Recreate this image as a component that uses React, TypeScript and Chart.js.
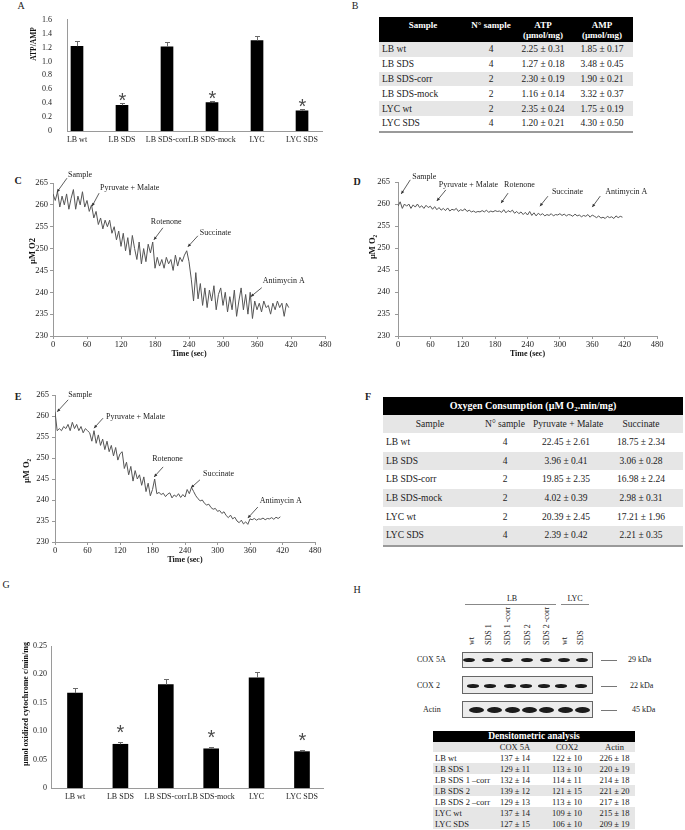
import React, { useEffect, useRef } from "react";
import { Chart, registerables } from "chart.js";

Chart.register(...registerables);

const SERIF = "'Liberation Serif', 'Times New Roman', Times, serif";

/* ---------------- data ---------------- */
const GROUPS = ["LB wt", "LB SDS", "LB SDS-corr", "LB SDS-mock", "LYC", "LYC SDS"];
const ATP_AMP = [1.22, 0.37, 1.21, 0.41, 1.3, 0.29];
const ATP_AMP_SE = [0.07, 0.03, 0.07, 0.025, 0.07, 0.02];
const SIGNIFICANT = [false, true, false, true, false, true];
const CYT_C_OX = [0.167, 0.077, 0.182, 0.069, 0.194, 0.064];
const CYT_C_OX_SE = [0.009, 0.004, 0.01, 0.003, 0.01, 0.003];

const TIME_STEP_SEC = 4;
const TRACE_C = [
  262.5, 261, 263, 259.5, 262, 260, 262.5, 259, 261.5, 263.5, 259, 262,
  260, 263, 259.5, 261, 258.5,
  260, 257, 258.5, 255.5, 257, 254.5, 256.5, 255,
  256.5, 253.5, 255, 252, 254,
  250.5, 253.5, 249.5, 252.5, 248.5, 253, 250, 247.5, 251.5, 246.5, 250, 247, 251, 249, 251.5,
  245.5, 248, 246, 247.5, 245.5, 248, 246.5, 247.5, 245, 248.5, 246, 248, 247, 248.5, 249.5,
  247, 243, 238,
  244.5, 238.5, 242, 237, 241, 236.5, 240.5, 238, 241.5, 236, 239.5, 241, 237,
  240, 235.5, 239, 236, 240.5, 234.5, 238, 241, 236, 239.5, 235, 240,
  234, 238, 236, 237.5, 235.5, 238, 236.5, 237, 235, 237.5, 236, 238, 236.5, 237.5, 234.5, 237.5, 236.5,
];
const TRACE_D = [
  259.5, 260.5, 259, 260, 259.5, 260, 259, 259.8, 259.3, 260, 259.2, 259.6, 259, 259.7, 259.2, 259.5,
  258.8, 259.4, 258.7, 259.2, 258.6, 259, 258.5, 259.1, 258.4, 258.8, 258.6, 259, 258.3, 258.7, 258.5,
  258.9, 258.3, 258.6, 258.2, 258.4, 258.1, 258.3, 258.2, 258.5, 258.2, 258.6, 258.1, 258.4, 258.2, 258.5,
  258.3, 258.4, 258.1, 258.7, 258, 258.5, 258.2, 258.6, 257.9, 258.3, 257.8, 258.2, 257.6, 258.1, 257.5,
  258.3, 257.4, 258, 257.3, 257.9, 257.5, 257.8, 257.3, 257.6, 257.4, 257.8, 257.3, 257.6, 257.5, 257.8,
  257.4, 257.7, 257.3, 257.6, 257.5, 257.2, 257.7, 257.3, 257.5, 257.1, 257.4, 257.2, 257.6, 257, 257.5,
  257.2, 256.9, 257.3, 256.8, 257, 256.7, 257.2, 256.9, 257.1, 256.7, 257.3, 256.9, 257.2, 257,
];
const TRACE_E = [
  261, 256.5,
  257, 256.5, 257.5, 257, 258, 256.5, 258.5, 257, 258, 256.5, 257.5, 256, 257, 256.5,
  256, 254, 256.5, 253.5, 255.5, 253, 254.5, 252, 254, 251.5, 253, 250.5, 252.5, 249.5, 251,
  251.5, 247.5, 249, 246, 248, 244.5, 247, 245, 246, 243.5, 245.5, 242, 244, 241, 242.5,
  245, 241.5, 241.8, 241.3, 241.6, 240.8, 241.4, 241.7, 240.5, 241.2, 240.8, 241.5, 240.6, 241.3, 240.7,
  242.5, 241.5, 243, 242, 241, 240.3, 239.8, 240, 239.2, 238.8, 239, 238.2, 237.8, 238, 237.3,
  237.5, 236.8, 237.2, 236.3, 235.8, 236.4, 235.5, 235.9, 235, 234.6, 235.2, 234.3, 234.8, 234.2, 235.5,
  235.3, 235.6, 235.2, 235.5, 235.4, 235.7, 235.3, 235.6, 235.5, 235.8, 235.4, 235.9, 235.6, 236,
];

const INJECTIONS = ["Sample", "Pyruvate + Malate", "Rotenone", "Succinate", "Antimycin A"];
const INJ_TIME_C = [7, 69, 178, 238, 349];
const INJ_O2_C = [262.9, 259.7, 252.0, 250.4, 239.0];
const INJ_TIME_D = [6, 72, 191, 263, 360];
const INJ_O2_D = [262.3, 260.7, 260.2, 259.5, 259.3];
const INJ_TIME_E = [4, 72, 183, 251, 356];
const INJ_O2_E = [261, 257.1, 245.5, 242.9, 235.7];

const TABLE_SAMPLES = ["LB wt", "LB SDS", "LB SDS-corr", "LB SDS-mock", "LYC wt", "LYC SDS"];
const N_SAMPLES = [4, 4, 2, 2, 2, 4];
const ATP_CONTENT = ["2.25 ± 0.31", "1.27 ± 0.18", "2.30 ± 0.19", "1.16 ± 0.14", "2.35 ± 0.24", "1.20 ± 0.21"];
const AMP_CONTENT = ["1.85 ± 0.17", "3.48 ± 0.45", "1.90 ± 0.21", "3.32 ± 0.37", "1.75 ± 0.19", "4.30 ± 0.50"];
const PM_CONSUMPTION = ["22.45 ± 2.61", "3.96 ± 0.41", "19.85 ± 2.35", "4.02 ± 0.39", "20.39 ± 2.45", "2.39 ± 0.42"];
const SUCC_CONSUMPTION = ["18.75 ± 2.34", "3.06 ± 0.28", "16.98 ± 2.24", "2.98 ± 0.31", "17.21 ± 1.96", "2.21 ± 0.35"];

const BLOT_LANES = ["wt", "SDS 1", "SDS 1 -corr", "SDS 2", "SDS 2 -corr", "wt", "SDS"];
const DENS_SAMPLES = ["LB wt", "LB SDS 1", "LB SDS 1 \u2013corr", "LB SDS 2", "LB SDS 2 \u2013corr", "LYC wt", "LYC SDS"];
const DENS_COX5A = ["137 ± 14", "129 ± 11", "132 ± 14", "139 ± 12", "129 ± 13", "137 ± 14", "127 ± 15"];
const DENS_COX2 = ["122 ± 10", "113 ± 10", "114 ± 11", "121 ± 15", "113 ± 10", "109 ± 10", "106 ± 10"];
const DENS_ACTIN = ["226 ± 18", "220 ± 19", "214 ± 18", "221 ± 20", "217 ± 18", "215 ± 18", "209 ± 19"];

/* ---------------- plugins ---------------- */
function barMarks(errors: number[], flags: boolean[], gap: number) {
  return {
    id: "barMarks",
    afterDatasetsDraw(chart: any) {
      const ctx = chart.ctx;
      const meta = chart.getDatasetMeta(0);
      const ys = chart.scales.y;
      ctx.save();
      meta.data.forEach((bar: any, i: number) => {
        const raw: any = chart.data.datasets[0].data[i];
        const x = Math.round(bar.x) + 0.5;
        const yVal = ys.getPixelForValue(raw.y);
        const yTop = Math.round(ys.getPixelForValue(raw.y + errors[i])) + 0.5;
        ctx.strokeStyle = "#6a6a6a";
        ctx.lineWidth = 1;
        ctx.beginPath();
        ctx.moveTo(x, yVal);
        ctx.lineTo(x, yTop);
        ctx.moveTo(x - 2.5, yTop);
        ctx.lineTo(x + 2.5, yTop);
        ctx.stroke();
        if (flags[i]) {
          ctx.fillStyle = "#4a4a4a";
          ctx.font = "20px 'Liberation Sans', Arial, sans-serif";
          ctx.textAlign = "center";
          ctx.textBaseline = "alphabetic";
          ctx.fillText("*", x, yTop - gap + 11.5);
        }
      });
      ctx.restore();
    },
  };
}

type Off = [number, number, number, number, CanvasTextAlign];
function injectionMarks(times: number[], values: number[], offs: Off[]) {
  return {
    id: "injectionMarks",
    afterDatasetsDraw(chart: any) {
      const { ctx } = chart;
      const xs = chart.scales.x;
      const ys = chart.scales.y;
      ctx.save();
      ctx.font = `8px ${SERIF}`;
      ctx.strokeStyle = "#333";
      ctx.lineWidth = 0.8;
      INJECTIONS.forEach((label, i) => {
        const px = xs.getPixelForValue(times[i]);
        const py = ys.getPixelForValue(values[i]);
        const o = offs[i];
        const tx = px + o[0];
        const ty = py + o[1];
        ctx.beginPath();
        ctx.moveTo(tx, ty);
        ctx.lineTo(px, py);
        ctx.stroke();
        const ang = Math.atan2(py - ty, px - tx);
        const L = 3.5;
        ctx.beginPath();
        ctx.moveTo(px, py);
        ctx.lineTo(px - L * Math.cos(ang - 0.45), py - L * Math.sin(ang - 0.45));
        ctx.lineTo(px - L * Math.cos(ang + 0.45), py - L * Math.sin(ang + 0.45));
        ctx.closePath();
        ctx.fillStyle = "#333";
        ctx.fill();
        ctx.fillStyle = "#222";
        ctx.textAlign = o[4];
        ctx.textBaseline = "middle";
        ctx.fillText(label, px + o[2], py + o[3]);
      });
      ctx.restore();
    },
  };
}

function sideTitle(text: string, x: number, y: number, font: string) {
  return {
    id: "sideTitle",
    afterDraw(chart: any) {
      const ctx = chart.ctx;
      ctx.save();
      ctx.translate(x, y);
      ctx.rotate(-Math.PI / 2);
      ctx.font = font;
      ctx.fillStyle = "#111";
      ctx.textAlign = "center";
      ctx.textBaseline = "middle";
      ctx.fillText(text, 0, 0);
      ctx.restore();
    },
  };
}

/* ---------------- chart configs ---------------- */
function barConfig(p: any): any {
  return {
    type: "bar",
    data: {
      datasets: [
        {
          data: p.values.map((v: number, i: number) => ({ x: i, y: v })),
          backgroundColor: "#000",
          barThickness: p.barWidth,
        },
      ],
    },
    options: {
      animation: false,
      responsive: false,
      maintainAspectRatio: false,
      layout: { padding: { left: 0, top: p.padTop, right: p.padRight, bottom: 0 } },
      plugins: { legend: { display: false }, tooltip: { enabled: false } },
      scales: {
        x: {
          type: "linear",
          offset: false,
          min: p.xMin,
          max: p.xMax,
          grid: { display: false, drawTicks: false, offset: false },
          border: { color: "#9a9a9a" },
          ticks: {
            stepSize: 1,
            includeBounds: false,
            autoSkip: false,
            maxRotation: 0,
            padding: p.xTickPad,
            color: "#222",
            font: { family: SERIF, size: 8 },
            callback: (v: number) => (Number.isInteger(v) && GROUPS[v] !== undefined ? GROUPS[v] : ""),
          },
          afterFit: (s: any) => {
            s.height = p.xHeight;
          },
        },
        y: {
          min: 0,
          max: p.yMax,
          grid: { display: false, drawTicks: false },
          border: { color: "#9a9a9a" },
          ticks: {
            stepSize: p.yStep,
            padding: p.yTickPad,
            color: "#222",
            font: { family: SERIF, size: 8 },
            callback: (v: number) => (v === 0 ? "0" : Number(v).toFixed(p.yDecimals)),
          },
          afterFit: (s: any) => {
            s.width = p.yWidth;
          },
        },
      },
    },
    plugins: [barMarks(p.errors, SIGNIFICANT, p.gap), sideTitle(p.title, p.titleX, p.titleY, p.titleFont)],
  };
}

function traceConfig(p: any): any {
  return {
    type: "line",
    data: {
      datasets: [
        {
          data: p.values.map((v: number, i: number) => ({ x: i * TIME_STEP_SEC, y: v })),
          borderColor: "#555",
          borderWidth: 1,
          pointRadius: 0,
          tension: 0,
          fill: false,
        },
      ],
    },
    options: {
      animation: false,
      responsive: false,
      maintainAspectRatio: false,
      layout: { padding: { left: 0, top: p.padTop, right: p.padRight, bottom: 0 } },
      plugins: { legend: { display: false }, tooltip: { enabled: false } },
      scales: {
        x: {
          type: "linear",
          min: 0,
          max: 480,
          grid: { display: true, drawOnChartArea: false, drawTicks: true, tickLength: 3, color: "#999" },
          border: { color: "#999" },
          ticks: {
            stepSize: 60,
            padding: p.xTickPad,
            color: "#222",
            font: { family: SERIF, size: 8.5 },
            maxRotation: 0,
          },
          title: {
            display: true,
            text: "Time (sec)",
            color: "#111",
            font: { family: SERIF, size: 8, weight: "bold" },
            padding: { top: 0, bottom: p.xTitlePad },
          },
          afterFit: (s: any) => {
            s.height = p.xHeight;
          },
        },
        y: {
          min: 230,
          max: 265,
          grid: { display: true, drawOnChartArea: false, drawTicks: true, tickLength: 3, color: "#999" },
          border: { color: "#999" },
          ticks: {
            stepSize: 5,
            padding: p.yTickPad,
            color: "#222",
            font: { family: SERIF, size: 8.5 },
          },
          afterFit: (s: any) => {
            s.width = p.yWidth;
          },
        },
      },
    },
    plugins: [
      injectionMarks(p.times, p.o2, p.offs),
      sideTitle(p.title, p.titleX, p.titleY, `bold 8.5px ${SERIF}`),
    ],
  };
}

function ChartBox({ left, top, width, height, config }: any) {
  const ref = useRef<HTMLCanvasElement>(null);
  useEffect(() => {
    const chart = new Chart(ref.current as HTMLCanvasElement, config());
    return () => chart.destroy();
  }, []);
  return (
    <canvas
      ref={ref}
      width={width}
      height={height}
      style={{ position: "absolute", left, top, width, height }}
    />
  );
}

/* ---------------- small html helpers ---------------- */
const abs = (extra: any) => ({ position: "absolute" as const, ...extra });

function PanelLetter({ ch, x, y, bold }: any) {
  return (
    <div
      style={abs({
        left: x,
        top: y,
        transform: "translate(-50%,-50%)",
        fontSize: 10,
        fontWeight: bold ? "bold" : "normal",
        color: "#222",
        lineHeight: "10px",
      })}
    >
      {ch}
    </div>
  );
}

const GRAY = "#e6e6e6";

function TableB() {
  const cols = [88, 48, 56, 62];
  return (
    <div style={abs({ left: 379, top: 17, width: 254, fontSize: 9.5, color: "#222" })}>
      <div
        style={{
          background: "#000",
          color: "#fff",
          fontWeight: "bold",
          fontSize: 9,
          height: 25,
          display: "flex",
          lineHeight: "10px",
          paddingTop: 3,
          boxSizing: "border-box",
        }}
      >
        <div style={{ width: cols[0], textAlign: "center" }}>Sample</div>
        <div style={{ width: cols[1], textAlign: "center", whiteSpace: "nowrap" }}>N° sample</div>
        <div style={{ width: cols[2], textAlign: "center", whiteSpace: "nowrap" }}>
          ATP
          <br />
          (µmol/mg)
        </div>
        <div style={{ width: cols[3], textAlign: "center", whiteSpace: "nowrap" }}>
          AMP
          <br />
          (µmol/mg)
        </div>
      </div>
      {TABLE_SAMPLES.map((s, i) => (
        <div
          key={s}
          style={{
            height: 14.8,
            display: "flex",
            alignItems: "center",
            background: i % 2 === 0 ? GRAY : "#fff",
            whiteSpace: "nowrap",
          }}
        >
          <div style={{ width: cols[0], paddingLeft: 3, boxSizing: "border-box" }}>{s}</div>
          <div style={{ width: cols[1], textAlign: "center" }}>{N_SAMPLES[i]}</div>
          <div style={{ width: cols[2], textAlign: "center" }}>{ATP_CONTENT[i]}</div>
          <div style={{ width: cols[3], textAlign: "center" }}>{AMP_CONTENT[i]}</div>
        </div>
      ))}
      <div style={{ height: 2, background: "#9a9a9a" }} />
    </div>
  );
}

function TableF() {
  const cols = [94, 56, 66, 84];
  const cell = (w: number, center: boolean) => ({
    width: w,
    textAlign: center ? ("center" as const) : ("left" as const),
    paddingLeft: center ? 0 : 3,
    boxSizing: "border-box" as const,
  });
  return (
    <div style={abs({ left: 383, top: 397, width: 300, fontSize: 9.5, color: "#222", whiteSpace: "nowrap" })}>
      <div
        style={{
          background: "#000",
          color: "#fff",
          fontWeight: "bold",
          fontSize: 10,
          height: 18,
          lineHeight: "18px",
          textAlign: "center",
        }}
      >
        Oxygen Consumption (µM O<sub style={{ fontSize: 7, verticalAlign: "-2px", lineHeight: 0 }}>2</sub>.min/mg)
      </div>
      <div style={{ height: 18, display: "flex", alignItems: "center", background: GRAY }}>
        <div style={cell(cols[0], true)}>Sample</div>
        <div style={cell(cols[1], true)}>N° sample</div>
        <div style={cell(cols[2], true)}>Pyruvate + Malate</div>
        <div style={cell(cols[3], true)}>Succinate</div>
      </div>
      {TABLE_SAMPLES.map((s, i) => (
        <div
          key={s}
          style={{
            height: 18.6,
            display: "flex",
            alignItems: "center",
            background: i % 2 === 1 ? GRAY : "#fff",
          }}
        >
          <div style={cell(cols[0], false)}>{s}</div>
          <div style={cell(cols[1], true)}>{N_SAMPLES[i]}</div>
          <div style={cell(cols[2], true)}>{PM_CONSUMPTION[i]}</div>
          <div style={cell(cols[3], true)}>{SUCC_CONSUMPTION[i]}</div>
        </div>
      ))}
      <div style={{ height: 2, background: "#9a9a9a" }} />
    </div>
  );
}

function TableH() {
  const cols = [57, 50, 54, 41];
  const shaded = [false, true, false, true, false, true, true];
  return (
    <div style={abs({ left: 433, top: 731, width: 202, fontSize: 8.5, color: "#222", whiteSpace: "nowrap" })}>
      <div
        style={{
          background: "#000",
          color: "#fff",
          fontWeight: "bold",
          fontSize: 9.5,
          height: 11,
          lineHeight: "11px",
          textAlign: "center",
        }}
      >
        Densitometric analysis
      </div>
      <div style={{ height: 10, display: "flex", alignItems: "center", background: GRAY }}>
        <div style={{ width: cols[0] }} />
        <div style={{ width: cols[1], textAlign: "center" }}>COX 5A</div>
        <div style={{ width: cols[2], textAlign: "center" }}>COX2</div>
        <div style={{ width: cols[3], textAlign: "center" }}>Actin</div>
      </div>
      {DENS_SAMPLES.map((s, i) => (
        <div
          key={s}
          style={{ height: 11, display: "flex", alignItems: "center", background: shaded[i] ? GRAY : "#fff" }}
        >
          <div style={{ width: cols[0], paddingLeft: 2, boxSizing: "border-box" }}>{s}</div>
          <div style={{ width: cols[1], textAlign: "center" }}>{DENS_COX5A[i]}</div>
          <div style={{ width: cols[2], textAlign: "center" }}>{DENS_COX2[i]}</div>
          <div style={{ width: cols[3], textAlign: "center" }}>{DENS_ACTIN[i]}</div>
        </div>
      ))}
    </div>
  );
}

const LANE_X = [472, 489, 508, 528, 547, 565, 581];
const BANDS = [
  { name: "COX 5A", kda: "29 kDa", boxTop: 652, boxH: 16, y: 660, w: 12, h: 4, xs: [469, 488, 507, 527, 546, 564, 582] },
  { name: "COX 2", kda: "22 kDa", boxTop: 676, boxH: 18, y: 686, w: 12, h: 3.5, xs: [473, 490, 510, 526, 544, 561, 581] },
  { name: "Actin", kda: "45 kDa", boxTop: 701, boxH: 17, y: 710, w: 15, h: 6, xs: [476, 494, 512, 529, 546, 565, 582] },
];

function Blot() {
  return (
    <div>
      <div style={abs({ left: 512, top: 599, transform: "translate(-50%,-50%)", fontSize: 8, lineHeight: "8px" })}>LB</div>
      <div style={abs({ left: 465, top: 604, width: 91, height: 1, background: "#888" })} />
      <div style={abs({ left: 575, top: 599, transform: "translate(-50%,-50%)", fontSize: 8, lineHeight: "8px" })}>LYC</div>
      <div style={abs({ left: 561, top: 604, width: 28, height: 1, background: "#888" })} />
      {BLOT_LANES.map((l, i) => (
        <div
          key={i}
          style={abs({
            left: LANE_X[i] - 4,
            top: 645,
            transform: "rotate(-90deg)",
            transformOrigin: "0 0",
            whiteSpace: "nowrap",
            fontSize: 8,
            lineHeight: "8px",
            color: "#222",
          })}
        >
          {l}
        </div>
      ))}
      {BANDS.map((b) => (
        <div key={b.name}>
          <div
            style={abs({
              left: 417,
              top: b.y,
              transform: "translateY(-50%)",
              fontSize: 8,
              lineHeight: "8px",
              color: "#222",
              marginLeft: b.name === "Actin" ? 6 : 0,
            })}
          >
            {b.name}
          </div>
          <div
            style={abs({
              left: 462,
              top: b.boxTop,
              width: 131,
              height: b.boxH,
              border: "1px solid #666",
              boxSizing: "border-box",
              background: "#ececec",
              overflow: "hidden",
            })}
          />
          {b.xs.map((x, i) => (
            <div
              key={i}
              style={abs({
                left: x - b.w / 2,
                top: b.y - b.h / 2,
                width: b.w,
                height: b.h,
                borderRadius: "50%",
                background: "#1b1b1b",
                filter: "blur(0.6px)",
              })}
            />
          ))}
          <div style={abs({ left: 601, top: b.y, width: 16, height: 1, background: "#777" })} />
          <div
            style={abs({
              left: b.name === "COX 5A" ? 628 : b.name === "COX 2" ? 630 : 632,
              top: b.y,
              transform: "translateY(-50%)",
              fontSize: 8,
              lineHeight: "8px",
              color: "#222",
              whiteSpace: "nowrap",
            })}
          >
            {b.kda}
          </div>
        </div>
      ))}
    </div>
  );
}

/* ---------------- app ---------------- */
export default function App() {
  const offsC: Off[] = [
    [10, -14, 23, -17, "center"],
    [7, -13, 8, -18, "left"],
    [9, -12, -3, -18, "left"],
    [10, -11, 12, -14, "left"],
    [11, -9, 12, -16, "left"],
  ];
  const offsD: Off[] = [
    [9, -14, 23, -17, "center"],
    [9, -11, 2, -16, "left"],
    [7, -10, 3, -18, "left"],
    [8, -10, 12, -14, "left"],
    [8, -11, 13, -15, "left"],
  ];
  const offsE: Off[] = [
    [11, -12, 23, -17, "center"],
    [9, -10, 12, -11, "left"],
    [9, -10, -2, -18, "left"],
    [9, -8, 12, -14, "left"],
    [10, -11, 12, -17, "left"],
  ];

  return (
    <div
      style={{
        position: "absolute",
        left: 0,
        top: 0,
        width: 685,
        height: 830,
        background: "#fff",
        overflow: "hidden",
        fontFamily: SERIF,
        color: "#222",
      }}
    >
      <PanelLetter ch="A" x={21} y={6} />
      <PanelLetter ch="B" x={355} y={6} />
      <PanelLetter ch="C" x={18} y={181} bold />
      <PanelLetter ch="D" x={357} y={182} bold />
      <PanelLetter ch="E" x={18} y={397} bold />
      <PanelLetter ch="F" x={368} y={397} bold />
      <PanelLetter ch="G" x={6} y={585} />
      <PanelLetter ch="H" x={357} y={590} />

      <ChartBox
        left={0}
        top={0}
        width={340}
        height={152}
        config={() =>
          barConfig({
            values: ATP_AMP,
            errors: ATP_AMP_SE,
            yMax: 1.6,
            yStep: 0.2,
            yDecimals: 1,
            xMin: -0.222,
            xMax: 5.444,
            barWidth: 12,
            padTop: 5,
            padRight: 18,
            yWidth: 67,
            xHeight: 21,
            yTickPad: 15,
            xTickPad: 4,
            gap: 8,
            title: "ATP/AMP",
            titleX: 34,
            titleY: 44,
            titleFont: `bold 7.5px ${SERIF}`,
          })
        }
      />
      <TableB />

      <ChartBox
        left={0}
        top={165}
        width={340}
        height={197}
        config={() =>
          traceConfig({
            values: TRACE_C,
            times: INJ_TIME_C,
            o2: INJ_O2_C,
            offs: offsC,
            padTop: 18,
            padRight: 15,
            yWidth: 53,
            xHeight: 26,
            yTickPad: 2,
            xTickPad: 1,
            xTitlePad: 3,
            title: "µM O2",
            titleX: 33,
            titleY: 86,
          })
        }
      />
      <ChartBox
        left={340}
        top={165}
        width={345}
        height={197}
        config={() =>
          traceConfig({
            values: TRACE_D,
            times: INJ_TIME_D,
            o2: INJ_O2_D,
            offs: offsD,
            padTop: 17,
            padRight: 28,
            yWidth: 58,
            xHeight: 26,
            yTickPad: 5,
            xTickPad: 1,
            xTitlePad: 3,
            title: "µM O\u2082",
            titleX: 33,
            titleY: 82,
          })
        }
      />
      <ChartBox
        left={0}
        top={385}
        width={340}
        height={185}
        config={() =>
          traceConfig({
            values: TRACE_E,
            times: INJ_TIME_E,
            o2: INJ_O2_E,
            offs: offsE,
            padTop: 10,
            padRight: 25,
            yWidth: 55,
            xHeight: 28,
            yTickPad: 3,
            xTickPad: 1,
            xTitlePad: 5,
            title: "µM O\u2082",
            titleX: 27,
            titleY: 86,
          })
        }
      />
      <TableF />

      <ChartBox
        left={0}
        top={600}
        width={340}
        height={215}
        config={() =>
          barConfig({
            values: CYT_C_OX,
            errors: CYT_C_OX_SE,
            yMax: 0.25,
            yStep: 0.05,
            yDecimals: 2,
            xMin: -0.529,
            xMax: 5.463,
            barWidth: 15,
            padTop: 46,
            padRight: 17,
            yWidth: 51,
            xHeight: 27,
            yTickPad: 4,
            xTickPad: 4,
            gap: 15,
            title: "µmol oxidized cytochrome c/min/mg",
            titleX: 26,
            titleY: 104,
            titleFont: `bold 8px ${SERIF}`,
          })
        }
      />
      <Blot />
      <TableH />
    </div>
  );
}
